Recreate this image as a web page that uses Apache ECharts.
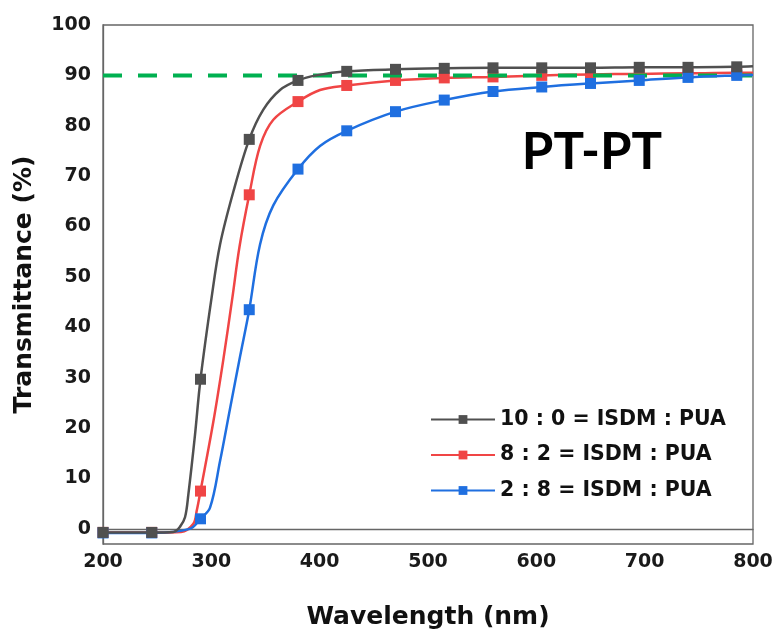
<!DOCTYPE html>
<html>
<head>
<meta charset="utf-8">
<script src="https://cdn.jsdelivr.net/npm/echarts@6/dist/echarts.min.js"></script>
<style>html,body{margin:0;padding:0;background:#fff;}#c{width:777px;height:635px;}</style>
</head>
<body>
<div id="c"></div>
<script>
// Marker wavelengths (nm)
var markerX = [200, 245, 290, 335, 380, 425, 470, 515, 560, 605, 650, 695, 740, 785];
// Marker values (%)
var grayMarkers = [-0.7, -0.7, 29.7, 77.3, 89.0, 90.8, 91.2, 91.4, 91.5, 91.5, 91.5, 91.6, 91.6, 91.7];
var redMarkers  = [-0.7, -0.7, 7.5, 66.3, 84.8, 88.0, 89.0, 89.5, 89.7, 90.0, 90.2, 90.3, 90.4, 90.5];
var blueMarkers = [-0.8, -0.8, 2.0, 43.5, 71.4, 79.0, 82.8, 85.1, 86.8, 87.7, 88.4, 89.0, 89.6, 90.0];
// Additional curve points (no marker)
var grayCurveX = [265, 271, 275.7, 278.8, 284.9, 300.3, 308, 320.3, 348, 363.4, 397, 800];
var grayCurveY = [-0.6, 0.4, 2.3, 6.85, 18.6, 46.0, 56.4, 66.9, 83.2, 87.1, 90.0, 91.8];
var redCurveX = [272, 283.4, 286.5, 301.8, 311, 319.5, 326, 345, 357.2, 400.3, 800];
var redCurveY = [-0.6, 1.0, 3.6, 21.2, 33.5, 46.0, 56.0, 76.0, 81.2, 87.1, 90.5];
var blueCurveX = [280, 298.8, 308, 317.2, 326.5, 344.9, 357.2, 400.3, 800];
var blueCurveY = [0.0, 4.2, 13.4, 23.8, 34.2, 56.4, 64.2, 76.0, 90.1];
// Reference line
var refLineX = [200, 800];
var refLineY = [90, 90];
// Tick labels
var yTicks = [0, 10, 20, 30, 40, 50, 60, 70, 80, 90, 100];
var seriesNames = ['10 : 0 = ISDM : PUA', '8 : 2 = ISDM : PUA', '2 : 8 = ISDM : PUA'];

function buildData(mx, my, cx, cy) {
  var pts = [];
  for (var i = 0; i < mx.length; i++) pts.push({value: [mx[i], my[i]]});
  for (var j = 0; j < cx.length; j++) pts.push({value: [cx[j], cy[j]], symbol: 'none'});
  pts.sort(function (a, b) { return a.value[0] - b.value[0]; });
  return pts;
}

var chart = echarts.init(document.getElementById('c'), null, {renderer: 'canvas'});
var labelFont = {fontFamily: 'DejaVu Sans', fontWeight: 'bold', fontSize: 19, color: '#1a1a1a'};

function lineSeries(name, color, data, z) {
  return {
    name: name, type: 'line', data: data, z: z,
    smooth: 0.35,
    symbol: 'rect', symbolSize: 11, showAllSymbol: true,
    lineStyle: {color: color, width: 2.5},
    itemStyle: {color: color},
    emphasis: {disabled: true}
  };
}

var refData = refLineX.map(function (x, i) { return [x, refLineY[i]]; });

chart.setOption({
  animation: false,
  backgroundColor: '#fff',
  grid: {left: 103, right: 24, top: 25, bottom: 90, show: true, borderColor: '#666', borderWidth: 1.3, backgroundColor: 'transparent'},
  xAxis: {
    type: 'value', min: 200, max: 800, interval: 100,
    name: 'Wavelength (nm)', nameLocation: 'middle', nameGap: 61,
    nameTextStyle: {fontFamily: 'DejaVu Sans', fontWeight: 'bold', fontSize: 25, color: '#111'},
    axisLine: {show: true, lineStyle: {color: '#666', width: 1.3}},
    axisTick: {show: false},
    splitLine: {show: false},
    axisLabel: Object.assign({margin: 9}, labelFont)
  },
  yAxis: {
    type: 'value', min: -3, max: 100,
    name: 'Transmittance (%)', nameLocation: 'middle', nameGap: 66, nameRotate: 90,
    nameTextStyle: {fontFamily: 'DejaVu Sans', fontWeight: 'bold', fontSize: 25, color: '#111'},
    axisLine: {show: true, lineStyle: {color: '#666', width: 1.3}},
    axisTick: {show: false},
    splitLine: {show: false},
    axisLabel: Object.assign({margin: 12, customValues: yTicks}, labelFont)
  },
  legend: {
    data: seriesNames,
    orient: 'vertical', left: 425, top: 404,
    itemWidth: 64, itemHeight: 11, itemGap: 14.5,
    textStyle: {fontFamily: 'DejaVu Sans', fontWeight: 'bold', fontSize: 20.5, color: '#111', lineHeight: 20},
    selectedMode: false
  },
  graphic: [{
    type: 'text', x: 592, y: 153,
    style: {text: 'PT-PT', fill: '#000', font: 'bold 51px Lato', textAlign: 'center', textVerticalAlign: 'middle'}
  }],
  series: [
    lineSeries(seriesNames[0], '#505050', buildData(markerX, grayMarkers, grayCurveX, grayCurveY), 5),
    lineSeries(seriesNames[1], '#f04545', buildData(markerX, redMarkers, redCurveX, redCurveY), 2),
    lineSeries(seriesNames[2], '#1f6fe0', buildData(markerX, blueMarkers, blueCurveX, blueCurveY), 4),
    {
      name: 'ref', type: 'line', data: refData, z: 3, symbol: 'none',
      lineStyle: {color: '#00b050', width: 4, type: [19, 16]},
      emphasis: {disabled: true}
    }
  ]
});
</script>
</body>
</html>
